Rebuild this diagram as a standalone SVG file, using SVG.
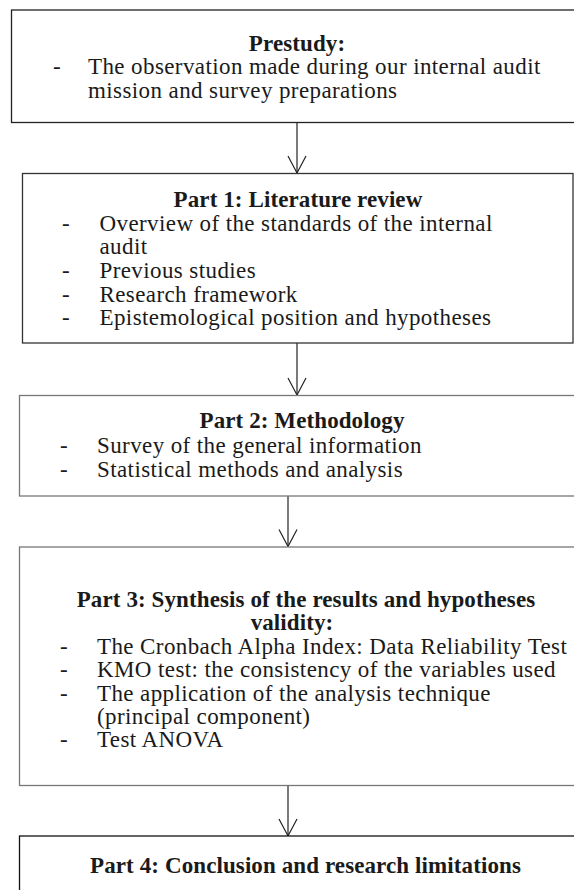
<svg xmlns="http://www.w3.org/2000/svg" width="574" height="890" viewBox="0 0 574 890">
<style>
.box{fill:#ffffff;stroke-width:1.3}
.t{font-family:"Liberation Serif","Times New Roman",serif;font-size:23px;fill:#1a1a1a}
.b{font-weight:bold;text-anchor:middle;letter-spacing:0.1px}
.r{letter-spacing:0.4px}
.c{fill:none;stroke:#222;stroke-width:1.2}
</style>
<defs>
<marker id="v" markerUnits="userSpaceOnUse" markerWidth="20" markerHeight="20" refX="0" refY="0" orient="auto" overflow="visible">
<path d="M-17,-9 L0,0 L-17,9" fill="none" stroke="#222" stroke-width="1.2"/>
</marker>
</defs>
<rect width="574" height="890" fill="#ffffff"/>
<g id="connectors">
<line class="c" x1="297" y1="122.5" x2="297" y2="173" marker-end="url(#v)"/>
<line class="c" x1="297" y1="343" x2="297" y2="395" marker-end="url(#v)"/>
<line class="c" x1="288" y1="496" x2="288" y2="546.5" marker-end="url(#v)"/>
<line class="c" x1="288" y1="785.5" x2="288" y2="836" marker-end="url(#v)"/>
</g>
<g id="prestudy">
<rect class="box" x="11.5" y="10" width="572" height="112.5" stroke="#222"/>
<text class="t b" x="297" y="50.5">Prestudy:</text>
<text class="t" x="53" y="74">-</text>
<text class="t r" x="88" y="74">The observation made during our internal audit</text>
<text class="t r" x="88" y="97.5">mission and survey preparations</text>
</g>
<g id="part1">
<rect class="box" x="22.5" y="173.5" width="550.5" height="169.5" stroke="#333"/>
<text class="t b" x="298" y="207">Part 1: Literature review</text>
<text class="t" x="62" y="230.5">-</text>
<text class="t r" x="99.5" y="230.5">Overview of the standards of the internal</text>
<text class="t r" x="99.5" y="254">audit</text>
<text class="t" x="62" y="278">-</text>
<text class="t r" x="99.5" y="278">Previous studies</text>
<text class="t" x="62" y="301.5">-</text>
<text class="t r" x="99.5" y="301.5">Research framework</text>
<text class="t" x="62" y="325">-</text>
<text class="t r" x="99.5" y="325">Epistemological position and hypotheses</text>
</g>
<g id="part2">
<rect class="box" x="19.5" y="395.5" width="572" height="100.5" stroke="#777"/>
<text class="t b" x="302" y="428">Part 2: Methodology</text>
<text class="t" x="60" y="452.5">-</text>
<text class="t r" x="97" y="452.5">Survey of the general information</text>
<text class="t" x="60" y="476.5">-</text>
<text class="t r" x="97" y="476.5">Statistical methods and analysis</text>
</g>
<g id="part3">
<rect class="box" x="19.5" y="547" width="572" height="238.5" stroke="#777"/>
<text class="t b" x="306" y="606.5">Part 3: Synthesis of the results and hypotheses</text>
<text class="t b" x="292" y="630">validity:</text>
<text class="t" x="60" y="653.5">-</text>
<text class="t r" x="97" y="653.5">The Cronbach Alpha Index: Data Reliability Test</text>
<text class="t" x="60" y="677">-</text>
<text class="t r" x="97" y="677">KMO test: the consistency of the variables used</text>
<text class="t" x="60" y="700.5">-</text>
<text class="t r" x="97" y="700.5">The application of the analysis technique</text>
<text class="t r" x="97" y="724">(principal component)</text>
<text class="t" x="60" y="747">-</text>
<text class="t r" x="97" y="747">Test ANOVA</text>
</g>
<g id="part4">
<rect class="box" x="19.5" y="836" width="572" height="80" stroke="#111"/>
<text class="t b" x="305.5" y="873">Part 4: Conclusion and research limitations</text>
</g>
</svg>
